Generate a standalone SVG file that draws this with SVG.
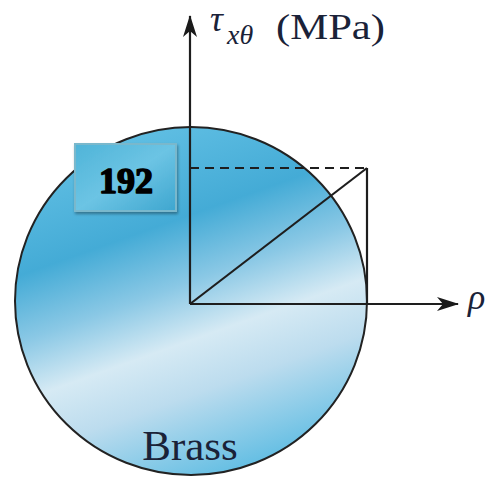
<svg xmlns="http://www.w3.org/2000/svg" width="486" height="482" viewBox="0 0 486 482">
<defs>
<linearGradient id="disc" x1="0.32" y1="0" x2="0.68" y2="1">
<stop offset="0" stop-color="#62c0e4"/>
<stop offset="0.28" stop-color="#44abd6"/>
<stop offset="0.45" stop-color="#8ac8e5"/>
<stop offset="0.6" stop-color="#d6eaf4"/>
<stop offset="0.74" stop-color="#bcdcee"/>
<stop offset="1" stop-color="#5abbe2"/>
</linearGradient>
<linearGradient id="box" x1="0" y1="0" x2="1" y2="1">
<stop offset="0" stop-color="#4fb4d8"/>
<stop offset="0.5" stop-color="#6cc4e4"/>
<stop offset="1" stop-color="#3ea6cf"/>
</linearGradient>
<marker id="arrow" viewBox="0 0 22 14" refX="21" refY="7" markerWidth="22" markerHeight="14" markerUnits="userSpaceOnUse" orient="auto">
<path d="M0,0 L22,7 L0,14 L6,7 Z" fill="#1a1a1a"/>
</marker>
<filter id="shadow" x="-10%" y="-10%" width="130%" height="130%">
<feDropShadow dx="1" dy="2" stdDeviation="1.5" flood-color="#000" flood-opacity="0.35"/>
</filter>
</defs>
<style>
.line{stroke:#1e1e1e;stroke-width:2.2;fill:none}
.serif{font-family:"Liberation Serif","DejaVu Serif",serif;fill:#1a2238}
.num{font-family:"Liberation Serif","DejaVu Serif",serif;font-weight:bold;fill:#000;stroke:#000;stroke-width:1.6;stroke-linejoin:round}
</style>
<g id="disc-node">
<ellipse cx="191" cy="301" rx="176" ry="174" fill="url(#disc)" stroke="#222" stroke-width="2"/>
<text class="serif" x="190" y="460" font-size="43" text-anchor="middle">Brass</text>
</g>
<g id="connectors">
<line class="line" x1="190" y1="304" x2="190" y2="16" marker-end="url(#arrow)"/>
<line class="line" x1="190" y1="304" x2="458" y2="304" marker-end="url(#arrow)"/>
<line class="line" x1="190" y1="304" x2="367" y2="168"/>
<line class="line" x1="367" y1="168" x2="367" y2="304"/>
<line class="line" x1="190" y1="168" x2="367" y2="168" stroke-dasharray="9,6"/>
</g>
<g id="axis-label">
<text class="serif" x="210" y="31" font-size="36" font-style="italic">τ</text>
<text class="serif" x="227" y="44" font-size="28" font-style="italic">xθ</text>
<text class="serif" x="276" y="39" font-size="36" textLength="109" lengthAdjust="spacingAndGlyphs">(MPa)</text>
</g>
<g id="rho-label">
<text class="serif" x="468" y="309" font-size="36" font-style="italic">ρ</text>
</g>
<g id="value-192">
<rect x="75" y="144" width="101" height="67" fill="url(#box)" stroke="#7ab8cc" stroke-width="2" filter="url(#shadow)"/>
<text class="num" x="126" y="193" font-size="36" text-anchor="middle">192</text>
</g>
</svg>
